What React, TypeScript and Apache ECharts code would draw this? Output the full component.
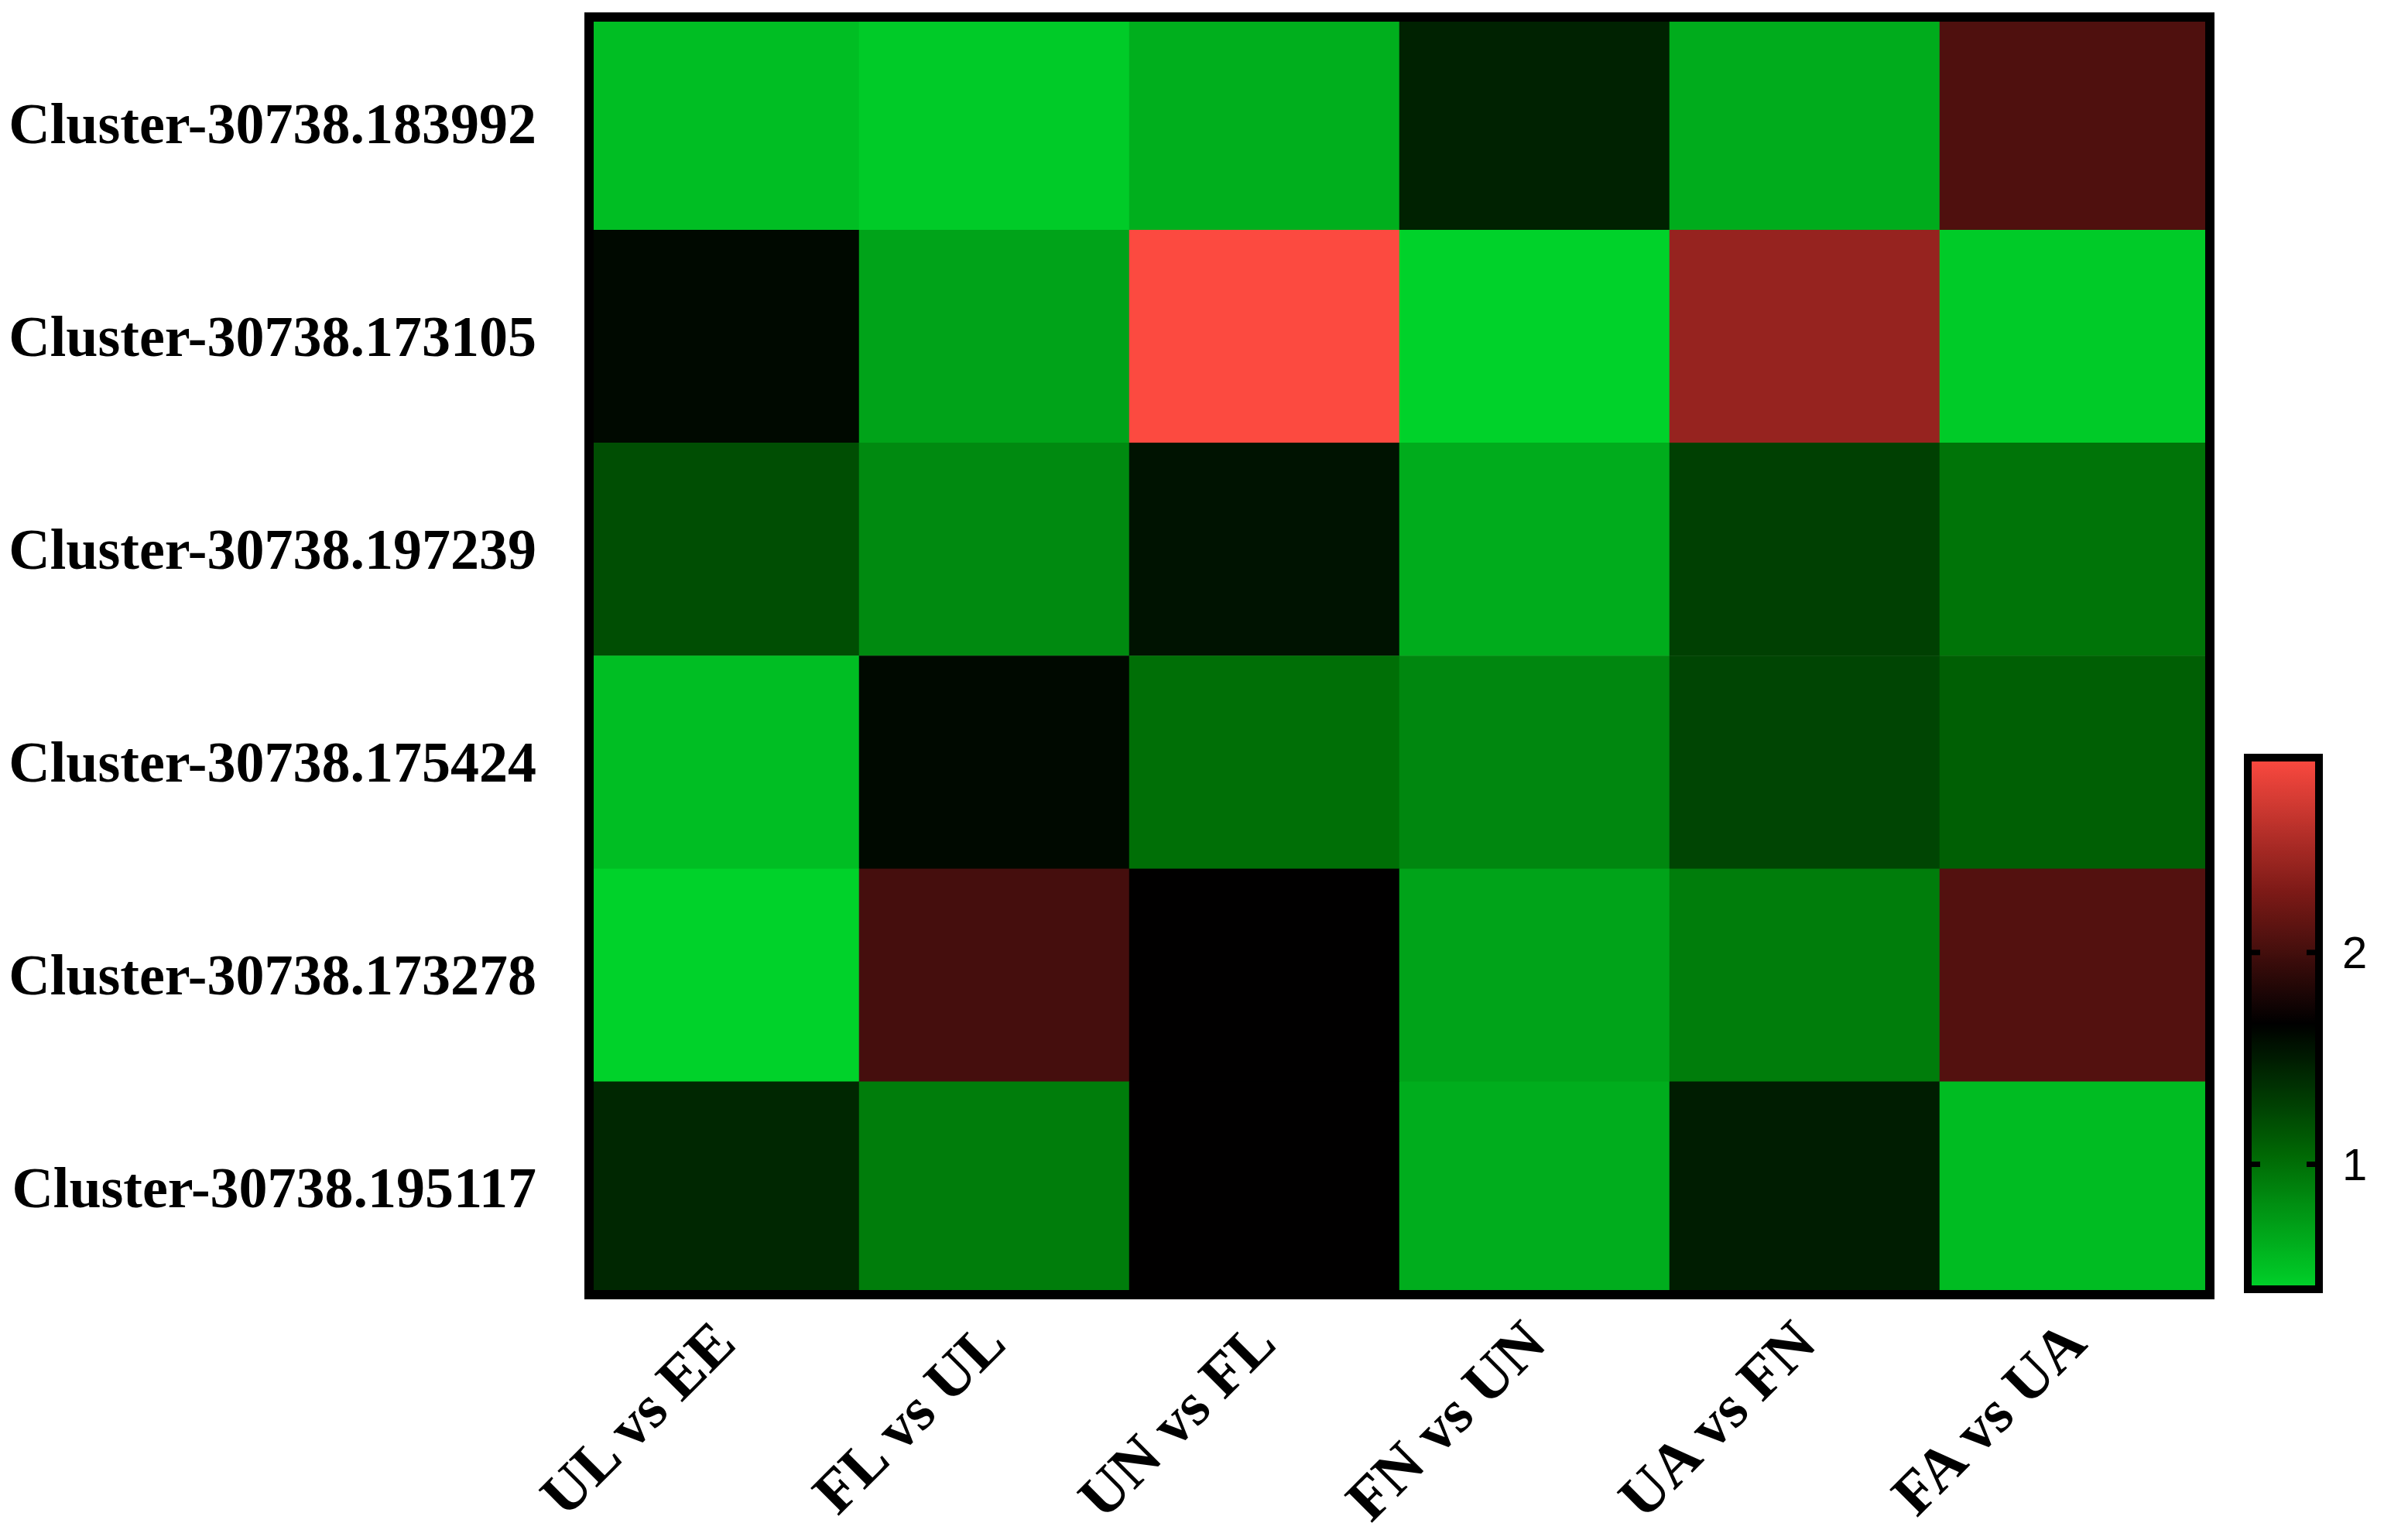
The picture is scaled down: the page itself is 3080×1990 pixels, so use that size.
import React, { useEffect, useRef } from "react";
import * as echarts from "echarts";

const comparisons = ["UL vs EE", "FL vs UL", "UN vs FL", "FN vs UN", "UA vs FN", "FA vs UA"];
const clusters = [
  "Cluster-30738.183992",
  "Cluster-30738.173105",
  "Cluster-30738.197239",
  "Cluster-30738.175424",
  "Cluster-30738.173278",
  "Cluster-30738.195117",
];
const vals183992 = [0.53, 0.45, 0.62, 1.46, 0.64, 2.06];
const vals173105 = [1.61, 0.69, 2.92, 0.41, 2.41, 0.45];
const vals197239 = [1.2, 0.84, 1.55, 0.64, 1.28, 0.97];
const vals175424 = [0.53, 1.61, 1.0, 0.86, 1.25, 1.1];
const vals173278 = [0.41, 2.01, 1.67, 0.69, 0.92, 2.08];
const vals195117 = [1.43, 0.92, 1.67, 0.63, 1.49, 0.54];
const rowValues = [vals183992, vals173105, vals197239, vals175424, vals173278, vals195117];

const scaleMin = 0.41;
const scaleMax = 2.92;
const scaleTicks = [1, 2];
const scaleColors = ["#00D22A", "#006904", "#000000", "#7E1A17", "#FC4A40"];

export default function App() {
  const ref = useRef<HTMLDivElement>(null);
  useEffect(() => {
    if (!ref.current) return;
    const chart = echarts.init(ref.current, undefined, { renderer: "svg" });
    const data: number[][] = [];
    rowValues.forEach((row, yi) => row.forEach((v, xi) => data.push([xi, yi, v])));
    const serif = "'Liberation Serif', 'Times New Roman', serif";
    const frame = { onZero: false, lineStyle: { color: "#000", width: 12, cap: "square" } };
    const cbFrame = { onZero: false, lineStyle: { color: "#000", width: 10, cap: "square" } };
    const none = { show: false };
    chart.setOption({
      animation: false,
      backgroundColor: "#fff",
      grid: [
        { left: 761, top: 22, width: 2094, height: 1651 },
        { left: 2904, top: 979, width: 92, height: 687 },
      ],
      xAxis: [
        {
          gridIndex: 0, type: "category", data: comparisons, position: "bottom", z: 10,
          axisLine: frame,
          axisTick: { alignWithLabel: true, length: 32, lineStyle: { color: "#000", width: 9 } },
          axisLabel: { rotate: 45, margin: 48, fontFamily: serif, fontWeight: "bold", fontSize: 78, color: "#000" },
          splitLine: none,
        },
        {
          gridIndex: 0, type: "category", data: comparisons, position: "top", z: 10,
          axisLine: frame, axisTick: none, axisLabel: none, splitLine: none,
        },
        {
          gridIndex: 1, type: "value", min: 0, max: 1, position: "bottom", z: 10,
          axisLine: cbFrame, axisTick: none, axisLabel: none, splitLine: none,
        },
        {
          gridIndex: 1, type: "value", min: 0, max: 1, position: "top", z: 10,
          axisLine: cbFrame, axisTick: none, axisLabel: none, splitLine: none,
        },
      ],
      yAxis: [
        {
          gridIndex: 0, type: "category", data: clusters, inverse: true, position: "left", z: 10,
          axisLine: frame,
          axisTick: { alignWithLabel: true, length: 36, lineStyle: { color: "#000", width: 9 } },
          axisLabel: { margin: 68, fontFamily: serif, fontWeight: "bold", fontSize: 74, color: "#000" },
          splitLine: none,
        },
        {
          gridIndex: 0, type: "category", data: clusters, inverse: true, position: "right", z: 10,
          axisLine: frame, axisTick: none, axisLabel: none, splitLine: none,
        },
        {
          gridIndex: 1, type: "value", min: scaleMin, max: scaleMax, position: "left", z: 10,
          axisLine: cbFrame, axisTick: none, axisLabel: none, splitLine: none,
        },
        {
          gridIndex: 1, type: "value", min: scaleMin, max: scaleMax, position: "right", z: 10,
          axisLine: cbFrame, axisTick: none,
          axisLabel: {
            customValues: scaleTicks, margin: 30, fontFamily: "'Liberation Sans', Arial, sans-serif",
            fontSize: 58, color: "#000",
          },
          splitLine: none,
        },
      ],
      visualMap: {
        type: "continuous", min: scaleMin, max: scaleMax, seriesIndex: 0,
        inRange: { color: scaleColors }, calculable: false, show: true,
        left: 2904, top: 979, itemWidth: 92, itemHeight: 687, padding: 0, z: 1,
        orient: "vertical", hoverLink: false,
      },
      series: [
        {
          type: "heatmap", xAxisIndex: 0, yAxisIndex: 0, data,
          itemStyle: { borderWidth: 0 },
          emphasis: { disabled: true },
        },
        {
          type: "custom", xAxisIndex: 2, yAxisIndex: 2, z: 20, silent: true,
          data: scaleTicks.map((v) => [v]),
          renderItem: (params: any, api: any) => {
            const v = api.value(0);
            const pL = api.coord([0, v]);
            const pR = api.coord([1, v]);
            const len = 16;
            const style = { stroke: "#000", lineWidth: 7 };
            return {
              type: "group",
              children: [
                { type: "line", shape: { x1: pL[0], y1: pL[1], x2: pL[0] + len, y2: pL[1] }, style },
                { type: "line", shape: { x1: pR[0] - len, y1: pR[1], x2: pR[0], y2: pR[1] }, style },
              ],
            };
          },
        },
      ],
    });
    return () => chart.dispose();
  }, []);
  return <div ref={ref} style={{ position: "absolute", left: 0, top: 0, width: 3080, height: 1990 }} />;
}
